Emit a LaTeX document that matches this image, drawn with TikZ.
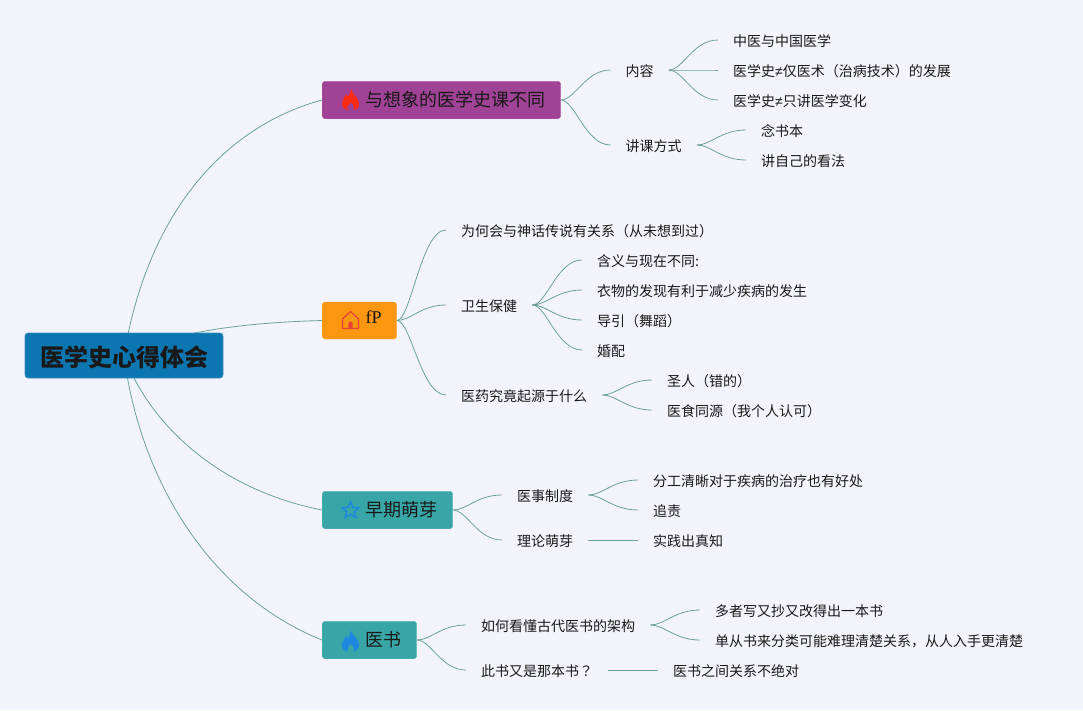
\documentclass[tikz,border=0pt]{standalone}
\usepackage{fontspec}
\setmainfont{Noto Sans CJK SC}
\newfontfamily\latinserif{Liberation Serif}
\newfontfamily\narrowsans{Liberation Sans}
\newfontfamily\cjktc{Noto Sans CJK TC}
\usetikzlibrary{calc,backgrounds}
\definecolor{pagebg}{HTML}{F3F3FB}
\definecolor{wire}{HTML}{6BA39C}
\definecolor{rootblue}{HTML}{0B76B0}
\definecolor{plum}{HTML}{A04296}
\definecolor{amber}{HTML}{FA9610}
\definecolor{teal}{HTML}{38A6A6}
\definecolor{flamered}{HTML}{FF2A12}
\definecolor{flameblue}{HTML}{1E88E0}
\definecolor{houseline}{HTML}{E5433A}
\newcommand{\neqsign}{{\narrowsans ≠}}
\tikzset{
  x=1pt,y=-1pt,
  leaf/.style={anchor=west,inner xsep=15pt,inner ysep=0pt,text height=15pt,text depth=3pt,
    font=\fontsize{14}{14}\selectfont,text=black!90},
  mainbox/.style={anchor=west,inner xsep=15pt,inner ysep=0pt,minimum height=37.5pt,text height=15pt,text depth=3pt,
    rounded corners=3pt,font=\fontsize{18}{18}\selectfont,text=black!90},
  rootbox/.style={anchor=center,inner sep=0pt,minimum width=198pt,minimum height=45pt,text height=26pt,text depth=5pt,
    rounded corners=3pt,fill=rootblue,draw=rootblue!80!white,line width=.6pt,font=\fontsize{24}{24}\selectfont\bfseries,text=black!90},
  wireline/.style={draw=wire,line width=.8pt},
}
\newcommand{\flameicon}[3]{%
  \fill[#3,even odd rule,shift={(#1,#2)}]
    (0.5,-10.5) .. controls (1,-6) and (8.5,-2) .. (8.5,4)
    .. controls (8.5,8) and (6,10.5) .. (3.5,10.5)
    .. controls (4.5,8) and (3,5) .. (0,3)
    .. controls (-2.5,5) and (-4,8) .. (-3,10.5)
    .. controls (-6,10.5) and (-8.5,8) .. (-8.5,4)
    .. controls (-8.5,0) and (-5.5,-2) .. (-4.5,-5)
    .. controls (-3.5,-3.5) and (-3,-3) .. (-2.5,-3)
    .. controls (-1,-5) and (0,-8) .. (0.5,-10.5) -- cycle;}
\newcommand{\homeicon}[2]{%
  \begin{scope}[shift={(#1,#2)}]
    \draw[houseline,line width=1.2pt,line join=round,line cap=round]
      (-6.5,8.5) -- (-8,8.5) -- (-8,-1) -- (0,-8.5) -- (8,-1) -- (8,8.5) -- (6.5,8.5) -- cycle;
    \fill[houseline] (-2.2,8.5) -- (-2.2,3.5) .. controls (-2.2,1) and (2.2,1) .. (2.2,3.5) -- (2.2,8.5) -- cycle;
  \end{scope}}
\newcommand{\staricon}[2]{%
  \draw[flameblue,line width=1.5pt,line join=round,shift={(#1,#2)}]
    (0,-9) -- (2.4,-3) -- (8.8,-2.8) -- (3.8,1.2) -- (5.5,7.4) -- (0,3.9) -- (-5.5,7.4) -- (-3.8,1.2) -- (-8.8,-2.8) -- (-2.4,-3) -- cycle;}
\begin{document}
\begin{tikzpicture}
\useasboundingbox (0,0) rectangle (1083,710);
% main nodes
\node[rootbox] (root) at (124,355.5) {医学史心得体会};
\node[mainbox,fill=plum,draw=plum!85!white] (m1) at (322,100) {\hspace*{28.5pt}与想象的医学史课不同};
\node[mainbox,fill=amber,draw=amber!85!white,minimum height=37pt] (m2) at (322,320.5) {\hspace*{28.5pt}\raisebox{3pt}{\latinserif fP}};
\node[mainbox,fill=teal,draw=teal!85!white] (m3) at (322,510) {\hspace*{28.5pt}早期萌芽};
\node[mainbox,fill=teal,draw=teal!85!white] (m4) at (322,640) {\hspace*{28.5pt}医书};
% leaves, branch 1
\node[leaf] (a1) at (610.5,70) {内容};
\node[leaf] (a2) at (610.5,145) {讲课方式};
\node[leaf] (a11) at (718,40) {中医与中国医学};
\node[leaf] (a12) at (718,70) {医学史\neqsign 仅医术（治病技术）的发展};
\node[leaf] (a13) at (718,100) {医学史\neqsign 只讲医学变化};
\node[leaf] (a21) at (746,130) {念书本};
\node[leaf] (a22) at (746,160) {讲自己的看法};
% branch 2
\node[leaf] (b1) at (446,230) {为何会与神话传说有关系（从未想到过）};
\node[leaf] (b2) at (446,305) {卫生保健};
\node[leaf] (b3) at (446,395) {医药究竟起源于什么};
\node[leaf] (b21) at (582,260) {含义与现在不同:};
\node[leaf] (b22) at (582,290) {衣物的发现有利于减少疾病的发生};
\node[leaf] (b23) at (582,320) {导引（舞蹈）};
\node[leaf] (b24) at (582,350) {婚配};
\node[leaf] (b31) at (652,380) {圣人（错的）};
\node[leaf] (b32) at (652,410) {医食同源（我个人认可）};
% branch 3
\node[leaf] (c1) at (502,495) {医事制度};
\node[leaf] (c2) at (502,540) {理论萌芽};
\node[leaf] (c11) at (638,480) {分工清晰对于疾病的治疗也有好处};
\node[leaf] (c12) at (638,510) {追责};
\node[leaf] (c21) at (638,540) {实践出真知};
% branch 4
\node[leaf] (d1) at (466,625) {如何看懂古代医书的架构};
\node[leaf] (d2) at (466,670) {此书又是那本书{\cjktc ？}};
\node[leaf] (d11) at (700,610) {多者写又抄又改得出一本书};
\node[leaf] (d12) at (700,640) {单从书来分类可能难理清楚关系，从人入手更清楚};
\node[leaf] (d21) at (658,670) {医书之间关系不绝对};
% icons
\flameicon{350.5}{99.5}{flamered}
\homeicon{350.5}{320}
\staricon{350.5}{510.5}
\flameicon{350.5}{641}{flameblue}
% connectors
\begin{scope}[on background layer]
  \fill[pagebg] (0,0) rectangle (1083,710);
  \draw[wireline] (root.center) .. controls ($(root.center)+(25,-150)$) and ($(m1.west)+(-92,25)$) .. (m1.west);
  \draw[wireline] (root.center) .. controls ($(root.center)+(51,-25)$) and ($(m2.west)+(-72,2)$) .. (m2.west);
  \draw[wireline] (root.center) .. controls ($(root.center)+(26,70)$) and ($(m3.west)+(-102,-20)$) .. (m3.west);
  \draw[wireline] (root.center) .. controls ($(root.center)+(16,125)$) and ($(m4.west)+(-112,-45)$) .. (m4.west);
  \foreach \a/\b in {m1/a1,m1/a2,a1/a11,a1/a12,a1/a13,a2/a21,a2/a22,
      m2/b1,m2/b2,m2/b3,b2/b21,b2/b22,b2/b23,b2/b24,b3/b31,b3/b32,
      m3/c1,m3/c2,c1/c11,c1/c12,c2/c21,
      m4/d1,m4/d2,d1/d11,d1/d12,d2/d21}
    \draw[wireline] (\a.east) .. controls ($(\a.east)+(14,0)$) and ($(\b.west)+(-25,0)$) .. (\b.west);
\end{scope}
\end{tikzpicture}
\end{document}
